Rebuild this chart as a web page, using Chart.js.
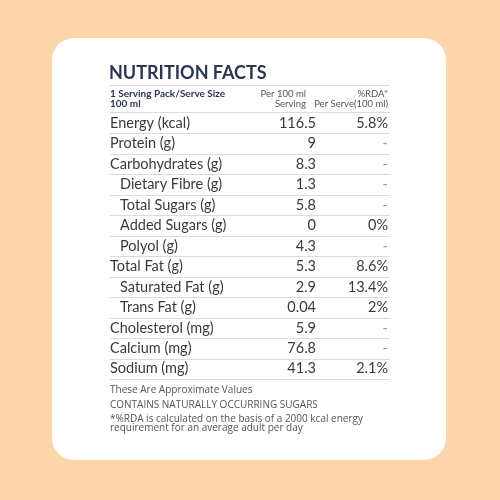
<!DOCTYPE html>
<html><head><meta charset="utf-8">
<script src="https://cdn.jsdelivr.net/npm/chart.js@4"></script>
<style>html,body{margin:0;padding:0;background:#fdd5ab;}canvas{display:block}</style>
</head><body>
<div style="width:500px;height:500px"><canvas id="c" width="500" height="500"></canvas></div>
<script>
const nutrients = ["Energy (kcal)","Protein (g)","Carbohydrates (g)","Dietary Fibre (g)","Total Sugars (g)","Added Sugars (g)","Polyol (g)","Total Fat (g)","Saturated Fat (g)","Trans Fat (g)","Cholesterol (mg)","Calcium (mg)","Sodium (mg)"];
const indent = [0,0,0,1,1,1,1,0,1,1,0,0,0];
const perServing = ["116.5","9","8.3","1.3","5.8","0","4.3","5.3","2.9","0.04","5.9","76.8","41.3"];
const rda = ["5.8%","-","-","-","-","0%","-","8.6%","13.4%","2%","-","-","2.1%"];
const title = "NUTRITION FACTS";
const header = [["1 Serving Pack/Serve Size","100 ml"],["Per 100 ml","Serving"],["%RDA*","Per Serve(100 ml)"]];
const notes = ["These Are Approximate Values","CONTAINS NATURALLY OCCURRING SUGARS","*%RDA is calculated on the basis of a 2000 kcal energy","requirement for an average adult per day"];
const navy = "#2b3650", grey = "#3a3a3a", line = "#dcdcdc";

const tablePlugin = {
  id:'table',
  beforeDraw(chart){
    const c = chart.ctx;
    c.save();
    c.fillStyle = "#fdd5ab"; c.fillRect(0,0,500,500);
    c.fillStyle = "#fff";
    c.beginPath(); c.roundRect(52,38,394,422,22); c.fill();
    c.restore();
  },
  afterDraw(chart){
    const c = chart.ctx, y = chart.scales.y;
    const L = 110, R = 390, V = 316;
    const step = y.getPixelForValue(1) - y.getPixelForValue(0);
    c.save();
    c.textBaseline = "middle";
    c.fillStyle = navy; c.font = "bold 18px Lato"; c.textAlign="left";
    c.fillText(title, L-1, 73);
    c.strokeStyle = line; c.lineWidth = 1;
    const hl = yy => {c.beginPath(); c.moveTo(L,yy+0.5); c.lineTo(R,yy+0.5); c.stroke();};
    hl(85); hl(112);
    c.fillStyle = navy; c.font = "bold 10px Lato";
    c.fillText(header[0][0], L, 94); c.fillText(header[0][1], L, 104);
    c.font = "9.5px Lato"; c.fillStyle = "#555"; c.textAlign = "right";
    c.fillText(header[1][0], V-10, 94); c.fillText(header[1][1], V-10, 104);
    c.fillText(header[2][0], R-2, 94); c.fillText(header[2][1], R-2, 104);
    nutrients.forEach((n,i)=>{
      const py = y.getPixelForValue(i);
      c.fillStyle = grey; c.font = "14.5px Lato"; c.textAlign="left";
      c.fillText(n, L + (indent[i]?10:0), py);
      c.textAlign="right";
      c.fillText(perServing[i], V, py);
      c.fillStyle = rda[i]==="-" ? "#999" : grey;
      c.fillText(rda[i], R-2, py);
      hl(Math.round(py + step/2));
    });
    c.fillStyle = "#555"; c.font = "10px Open Sans"; c.textAlign="left";
    const ny = [390,405,419,428];
    notes.forEach((t,i)=>c.fillText(t, L, ny[i]));
    c.restore();
  }
};

new Chart(document.getElementById('c'),{
  type:'bar',
  data:{labels:nutrients, datasets:[{data:nutrients.map(()=>0), backgroundColor:'rgba(0,0,0,0)'}]},
  options:{
    responsive:false, animation:false, indexAxis:'y',
    layout:{padding:{left:110,right:110,top:113,bottom:500-379}},
    plugins:{legend:{display:false},tooltip:{enabled:false}},
    scales:{x:{display:false,min:0,max:1},y:{display:false}}
  },
  plugins:[tablePlugin]
});
</script>
</body></html>
